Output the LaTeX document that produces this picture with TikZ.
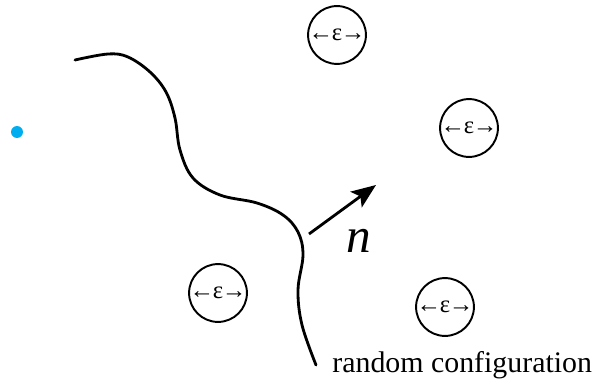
\documentclass[tikz,border=0pt]{standalone}
\usepackage{fontspec}
\setmainfont{Liberation Serif}
\usepackage{tikz}
\usetikzlibrary{arrows.meta}
\definecolor{dotblue}{RGB}{0,174,239}
\newcommand{\epsspan}{←\kern-0.8pt ɛ\kern-0.8pt→}

\begin{document}
\begin{tikzpicture}[
    x=0.02cm, y=-0.02cm,
    ball/.style={circle, draw=black, line width=1.1pt, minimum size=1.08cm, inner sep=0pt, font=\fontsize{14}{16}\selectfont},
    wall/.style={line width=1.6pt, draw=black, line cap=round},
    arrow/.style={-{Stealth[length=14pt, width=11pt, inset=3pt]}, line width=1.6pt, draw=black}
]
    \useasboundingbox (0,0) rectangle (594,385);

    \node [ball] (b1) at (337,35) {\epsspan};
    \node [ball] (b2) at (469,128) {\epsspan};
    \node [ball] (b3) at (218,293) {\epsspan};
    \node [ball] (b4) at (445,307) {\epsspan};

    \node [circle, fill=dotblue, minimum size=0.24cm, inner sep=0pt] (dot) at (17,132) {};

    % the boundary
    \draw [wall] plot [smooth, tension=0.6] coordinates {(75,60) (108,54) (128,57) (150,72) (166,92) (175,118) (180,150) (193,178) (220,195) (257,203) (283,215) (298,232) (303,255) (298,290) (302,325) (316,365)};

    \coordinate (nstart) at (309,234);
    \coordinate (ntip) at (376,185);
    \draw [arrow] (nstart) -- (ntip);
    \node [font=\fontsize{28}{30}\selectfont\itshape] (nlab) at (359,241) {n};

    \node [anchor=base west, inner sep=0pt, font=\fontsize{17}{18}\selectfont] (cfg) at (332,372) {random configuration};
\end{tikzpicture}
\end{document}
